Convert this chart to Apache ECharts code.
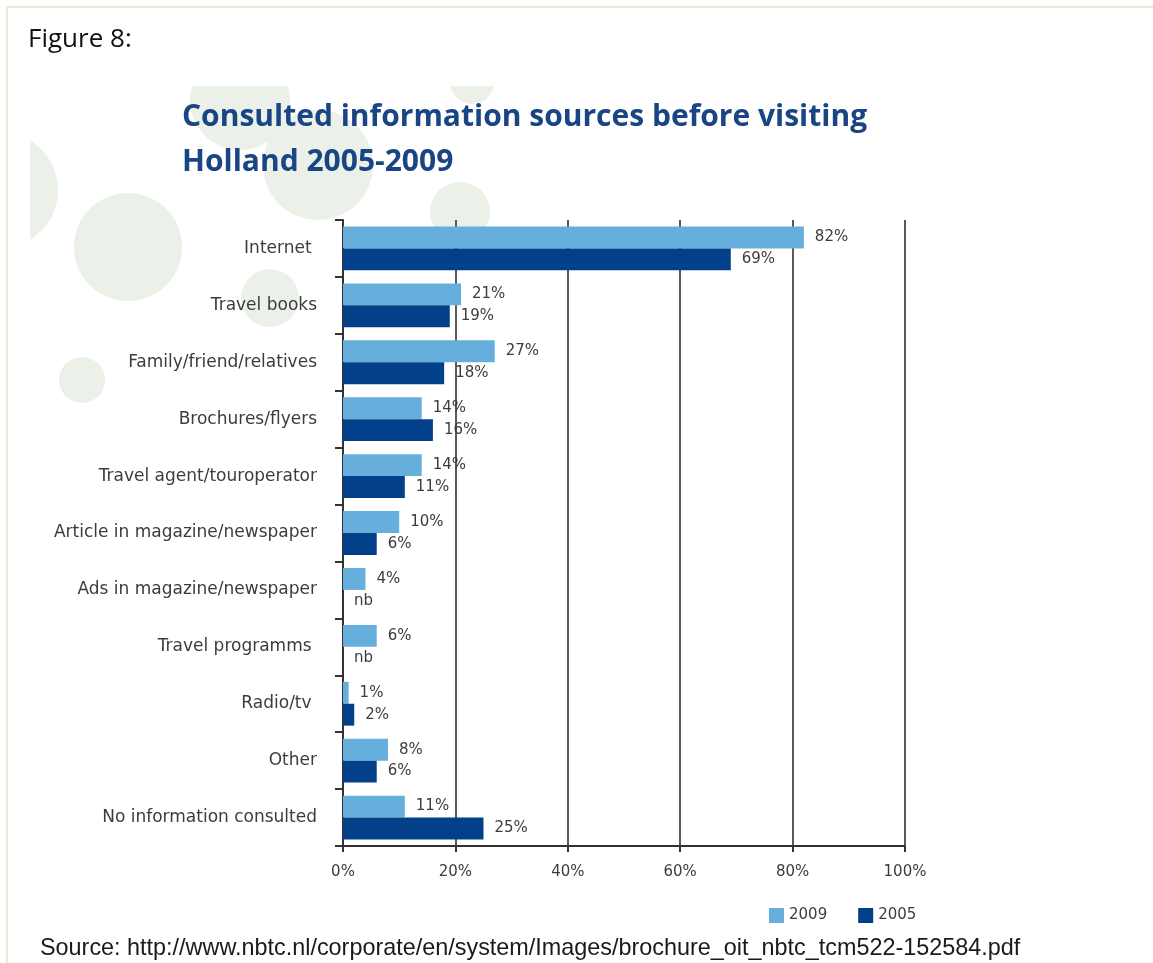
<!DOCTYPE html>
<html>
<head>
<meta charset="utf-8">
<script src="https://cdn.jsdelivr.net/npm/echarts@6/dist/echarts.min.js"></script>
<style>
html,body{margin:0;padding:0;background:#fff;}
#chart{width:1153px;height:963px;}
</style>
</head>
<body>
<div id="chart"></div>
<script>
const categories = [
  "Internet ",
  "Travel books",
  "Family/friend/relatives",
  "Brochures/flyers",
  "Travel agent/touroperator",
  "Article in magazine/newspaper",
  "Ads in magazine/newspaper",
  "Travel programms ",
  "Radio/tv ",
  "Other",
  "No information consulted"
];
const values2009 = [82, 21, 27, 14, 14, 10, 4, 6, 1, 8, 11];
const values2005 = [69, 19, 18, 16, 11, 6, null, null, 2, 6, 25];
const xTicks = [0, 20, 40, 60, 80, 100];
const seriesNames = ["2009", "2005"];

const LIGHT = "#66AFDD";
const DARK = "#02408A";
const TXT = "#3c3c3c";
const FONT = "'DejaVu Sans', sans-serif";
const CIRCLE = "#EBF0E8";

function toData(arr) {
  return arr.map(v => v === null ? { value: 0, label: { formatter: "nb" } } : v);
}

const circles = [
  [0, 190, 58],
  [128, 247, 54],
  [318, 165, 55],
  [270, 298, 29],
  [82, 380, 23],
  [460, 212, 30],
  [472, 82, 22],
  [240, 100, 50]
];

const chart = echarts.init(document.getElementById("chart"), null, { renderer: "canvas" });

const bgGraphics = [
  {
    type: "group",
    z: -10,
    silent: true,
    clipPath: { type: "rect", shape: { x: 30, y: 86, width: 900, height: 800 } },
    children: circles.map(c => ({
      type: "circle",
      shape: { cx: c[0], cy: c[1], r: c[2] },
      style: { fill: CIRCLE }
    }))
  },
  { type: "line", z: -5, silent: true, shape: { x1: 7, y1: 7, x2: 1153, y2: 7 }, style: { stroke: "#EEE7D8", lineWidth: 2 } },
  { type: "line", z: -5, silent: true, shape: { x1: 7, y1: 7, x2: 7, y2: 963 }, style: { stroke: "#EEE7D8", lineWidth: 2 } },
  {
    type: "text", left: 28, top: 27,
    style: { text: "Figure 8:", font: "26px 'Open Sans', sans-serif", fill: "#111" }
  },
  {
    type: "text", left: 182, top: 95,
    style: {
      text: "Consulted information sources before visiting\nHolland 2005-2009",
      font: "bold 30px 'Open Sans', sans-serif",
      fill: "#1A4585",
      lineHeight: 45
    }
  },
  {
    type: "text", left: 40, top: 937,
    style: {
      text: "Source: http://www.nbtc.nl/corporate/en/system/Images/brochure_oit_nbtc_tcm522-152584.pdf",
      font: "23.4px 'Liberation Sans', Arial, sans-serif",
      fill: "#1a1a1a"
    }
  }
];

const option = {
  backgroundColor: "#ffffff",
  animation: false,
  graphic: bgGraphics,
  legend: {
    data: seriesNames,
    left: 764,
    top: 903,
    itemWidth: 15,
    itemHeight: 15,
    itemGap: 31,
    icon: "rect",
    textStyle: { fontFamily: FONT, fontSize: 15, color: TXT }
  },
  grid: { left: 343, right: 248, top: 220, bottom: 117, containLabel: false },
  xAxis: {
    type: "value",
    min: xTicks[0],
    max: xTicks[xTicks.length - 1],
    interval: 20,
    axisLine: { show: true, lineStyle: { color: "#333", width: 2 } },
    axisTick: { show: true, length: 6, lineStyle: { color: "#333", width: 2 } },
    axisLabel: { formatter: v => v + "%", fontFamily: FONT, fontSize: 15, color: TXT, margin: 19 },
    splitLine: { show: true, lineStyle: { color: "#5a5a5a", width: 2 } }
  },
  yAxis: {
    type: "category",
    data: categories,
    inverse: true,
    axisLine: { show: true, lineStyle: { color: "#333", width: 2 } },
    axisTick: { show: true, length: 8, lineStyle: { color: "#333", width: 2 } },
    axisLabel: { fontFamily: FONT, fontSize: 17, color: TXT, margin: 26 }
  },
  series: [
    {
      name: seriesNames[0],
      type: "bar",
      data: toData(values2009),
      itemStyle: { color: LIGHT },
      barGap: "0%",
      barCategoryGap: "23%",
      label: { show: true, position: "right", distance: 11, formatter: p => p.value + "%", fontFamily: FONT, fontSize: 15, color: TXT }
    },
    {
      name: seriesNames[1],
      type: "bar",
      data: toData(values2005),
      itemStyle: { color: DARK },
      barGap: "0%",
      barCategoryGap: "23%",
      label: { show: true, position: "right", distance: 11, formatter: p => p.value + "%", fontFamily: FONT, fontSize: 15, color: TXT }
    }
  ]
};

chart.setOption(option);
</script>
</body>
</html>
